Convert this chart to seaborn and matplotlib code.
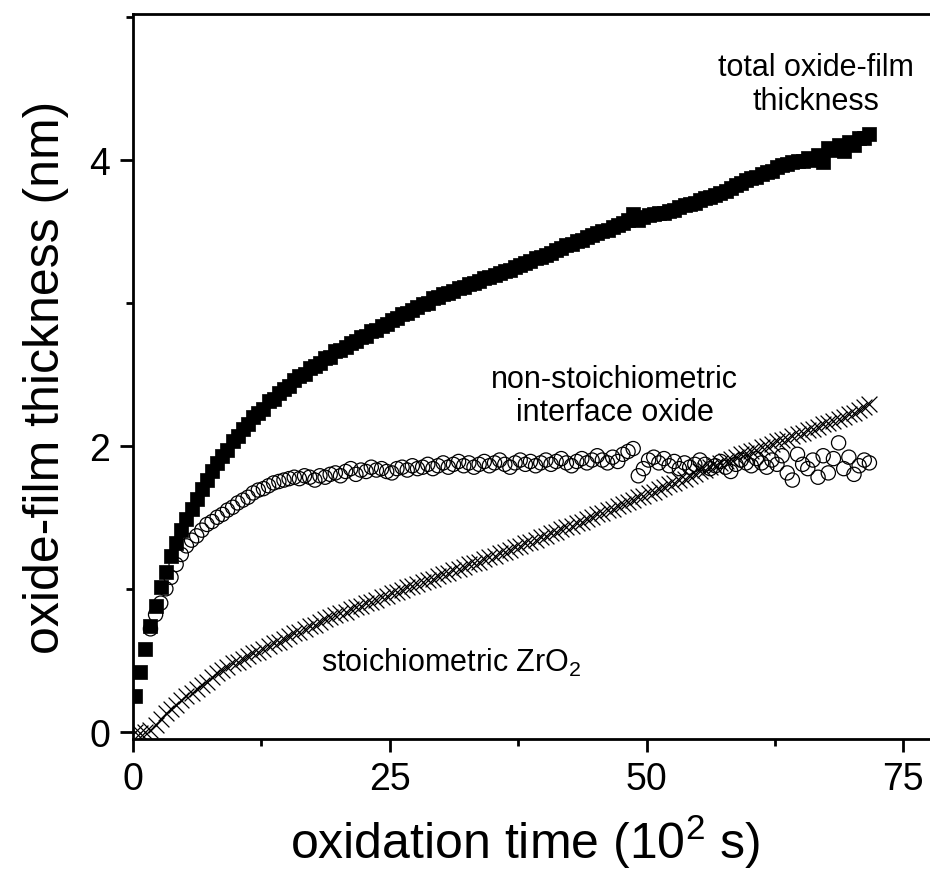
import numpy as np
import pandas as pd
import matplotlib
matplotlib.use("Agg")
import matplotlib.pyplot as plt
import seaborn as sns
from matplotlib.ticker import MultipleLocator

# ---------------- data ----------------
# oxidation time in units of 10^2 s (regular sampling grid)
t_total = np.round(np.arange(0.2, 71.75, 0.5), 2)
total_thickness = [
    0.25, 0.42, 0.58, 0.74, 0.88, 1.01, 1.12, 1.23, 1.32, 1.41,
    1.49, 1.56, 1.63, 1.70, 1.76, 1.82, 1.88, 1.93, 1.97, 2.03,
    2.07, 2.12, 2.15, 2.20, 2.23, 2.26, 2.31, 2.33, 2.37, 2.40,
    2.42, 2.46, 2.49, 2.50, 2.54, 2.56, 2.58, 2.61, 2.62, 2.66,
    2.67, 2.69, 2.72, 2.73, 2.76, 2.77, 2.80, 2.81, 2.84, 2.85,
    2.88, 2.89, 2.92, 2.93, 2.95, 2.97, 2.99, 3.00, 3.03, 3.04,
    3.06, 3.07, 3.08, 3.10, 3.11, 3.13, 3.14, 3.15, 3.17, 3.18,
    3.19, 3.21, 3.22, 3.23, 3.25, 3.26, 3.28, 3.29, 3.31, 3.32,
    3.33, 3.35, 3.37, 3.38, 3.40, 3.41, 3.43, 3.44, 3.46, 3.47,
    3.49, 3.50, 3.51, 3.53, 3.54, 3.56, 3.58, 3.62, 3.58, 3.60,
    3.61, 3.62, 3.63, 3.63, 3.64, 3.65, 3.67, 3.68, 3.69, 3.70,
    3.72, 3.73, 3.74, 3.75, 3.77, 3.78, 3.80, 3.82, 3.84, 3.86,
    3.87, 3.88, 3.90, 3.91, 3.92, 3.95, 3.96, 3.97, 3.98, 3.99,
    3.99, 4.01, 4.00, 4.03, 3.98, 4.08, 4.07, 4.10, 4.06, 4.12,
    4.10, 4.15, 4.15, 4.18,
]

t_interface = np.round(np.arange(1.7, 71.75, 0.5), 2)
interface_thickness = [
    0.72, 0.82, 0.90, 1.00, 1.08, 1.17, 1.24, 1.30, 1.34, 1.37,
    1.41, 1.45, 1.47, 1.50, 1.52, 1.55, 1.57, 1.60, 1.62, 1.64,
    1.67, 1.69, 1.70, 1.72, 1.74, 1.75, 1.76, 1.77, 1.78, 1.77,
    1.79, 1.78, 1.76, 1.79, 1.78, 1.80, 1.81, 1.79, 1.82, 1.84,
    1.80, 1.83, 1.82, 1.85, 1.83, 1.84, 1.82, 1.81, 1.84, 1.85,
    1.83, 1.86, 1.84, 1.85, 1.87, 1.84, 1.86, 1.88, 1.85, 1.87,
    1.89, 1.86, 1.88, 1.85, 1.87, 1.89, 1.86, 1.88, 1.90, 1.87,
    1.85, 1.88, 1.90, 1.87, 1.89, 1.86, 1.88, 1.90, 1.87, 1.89,
    1.91, 1.88, 1.86, 1.89, 1.91, 1.88, 1.90, 1.93, 1.90, 1.88,
    1.92, 1.89, 1.94, 1.96, 1.98, 1.79, 1.84, 1.90, 1.92, 1.88,
    1.91, 1.86, 1.89, 1.84, 1.88, 1.85, 1.87, 1.90, 1.87, 1.84,
    1.86, 1.89, 1.85, 1.82, 1.87, 1.90, 1.88, 1.86, 1.91, 1.88,
    1.85, 1.90, 1.87, 1.93, 1.81, 1.76, 1.94, 1.87, 1.84, 1.90,
    1.78, 1.93, 1.81, 1.91, 2.02, 1.84, 1.92, 1.80, 1.86, 1.90,
    1.88,
]

t_zro2 = np.round(np.arange(0.2, 71.75, 0.5), 2)
zro2_thickness = [
    0.00, -0.01, 0.00, 0.01, 0.05, 0.09, 0.13, 0.16, 0.19, 0.22,
    0.25, 0.27, 0.30, 0.33, 0.35, 0.38, 0.41, 0.43, 0.45, 0.48,
    0.49, 0.51, 0.53, 0.55, 0.56, 0.58, 0.60, 0.62, 0.63, 0.65,
    0.67, 0.69, 0.70, 0.72, 0.74, 0.75, 0.77, 0.79, 0.80, 0.82,
    0.83, 0.84, 0.86, 0.87, 0.88, 0.90, 0.91, 0.92, 0.94, 0.95,
    0.97, 0.98, 0.99, 1.01, 1.02, 1.03, 1.05, 1.06, 1.07, 1.09,
    1.10, 1.11, 1.13, 1.14, 1.15, 1.17, 1.18, 1.19, 1.21, 1.22,
    1.23, 1.25, 1.26, 1.27, 1.29, 1.30, 1.32, 1.33, 1.34, 1.36,
    1.37, 1.39, 1.40, 1.42, 1.43, 1.44, 1.46, 1.47, 1.49, 1.50,
    1.52, 1.53, 1.55, 1.56, 1.58, 1.59, 1.61, 1.62, 1.64, 1.65,
    1.67, 1.68, 1.70, 1.71, 1.73, 1.74, 1.76, 1.77, 1.79, 1.80,
    1.82, 1.83, 1.85, 1.86, 1.88, 1.89, 1.91, 1.92, 1.94, 1.95,
    1.96, 1.97, 1.99, 2.00, 2.01, 2.03, 2.04, 2.05, 2.07, 2.08,
    2.09, 2.11, 2.12, 2.13, 2.15, 2.16, 2.17, 2.19, 2.20, 2.22,
    2.23, 2.25, 2.27, 2.29,
]

x_ticks = [0, 25, 50, 75]
y_ticks = [0, 2, 4]

label_total = "total oxide-film\nthickness"
label_interface = "non-stoichiometric\ninterface oxide"
label_zro2 = r"stoichiometric ZrO$_2$"

df_total = pd.DataFrame({"t": t_total, "d": total_thickness})
df_int = pd.DataFrame({"t": t_interface, "d": interface_thickness})
df_zr = pd.DataFrame({"t": t_zro2, "d": zro2_thickness})

# ---------------- style ----------------
sns.set_theme(style="white")
plt.rcParams["font.family"] = ["Liberation Sans", "DejaVu Sans"]
plt.rcParams["mathtext.fontset"] = "custom"
plt.rcParams["mathtext.rm"] = "Liberation Sans"
plt.rcParams["mathtext.it"] = "Liberation Sans:italic"
plt.rcParams["mathtext.bf"] = "Liberation Sans:bold"
plt.rcParams["text.color"] = "black"
plt.rcParams["axes.labelcolor"] = "black"
plt.rcParams["xtick.color"] = "black"
plt.rcParams["ytick.color"] = "black"

fig = plt.figure(figsize=(9.3, 8.78), dpi=100)
ax = fig.add_axes([133 / 930, 1 - 740 / 878, 1 - 133 / 930, (740 - 14.7) / 878])

sns.scatterplot(data=df_total, x="t", y="d", ax=ax, marker="s", s=100,
                color="black", edgecolor="black", linewidth=0.5, zorder=3)
sns.scatterplot(data=df_int, x="t", y="d", ax=ax, marker="o", s=105,
                facecolor="none", edgecolor="black", linewidth=0.9, zorder=2)
sns.scatterplot(data=df_zr, x="t", y="d", ax=ax, marker="x", s=130,
                color="black", linewidth=0.9, zorder=2)

ax.set_xlim(0, 77.6)
ax.set_ylim(-0.05, 5.02)
ax.set_xticks(x_ticks)
ax.set_yticks(y_ticks)
ax.xaxis.set_minor_locator(MultipleLocator(12.5))
ax.yaxis.set_minor_locator(MultipleLocator(1))

for side in ["left", "bottom", "top"]:
    ax.spines[side].set_visible(True)
    ax.spines[side].set_color("black")
    ax.spines[side].set_linewidth(2.0)
ax.spines["right"].set_visible(False)

ax.tick_params(axis="both", which="major", direction="out", length=9.5,
               width=2.0, color="black", labelcolor="black", labelsize=27,
               pad=6, bottom=True, left=True, top=False, right=False)
ax.tick_params(axis="both", which="minor", direction="out", length=5,
               width=2.0, color="black", bottom=True, left=True,
               top=False, right=False)
ax.tick_params(axis="y", which="major", pad=7)

ax.set_xlabel(r"oxidation time (10$^{2}$ s)", fontsize=36, color="black")
ax.set_ylabel("oxide-film thickness (nm)", fontsize=36, color="black")
ax.xaxis.set_label_coords(0.492, -0.1)
ax.yaxis.set_label_coords(-0.08, 0.5)

ax.text(66.5, 4.53, label_total, fontsize=22, ha="center", va="center",
        multialignment="center", linespacing=1.15, color="black")
ax.text(46.9, 2.35, label_interface, fontsize=22, ha="center", va="center",
        multialignment="center", linespacing=1.15, color="black")
ax.text(18.3, 0.49, label_zro2, fontsize=22, ha="left", va="center",
        color="black")

fig.savefig("out.png", dpi=100)
